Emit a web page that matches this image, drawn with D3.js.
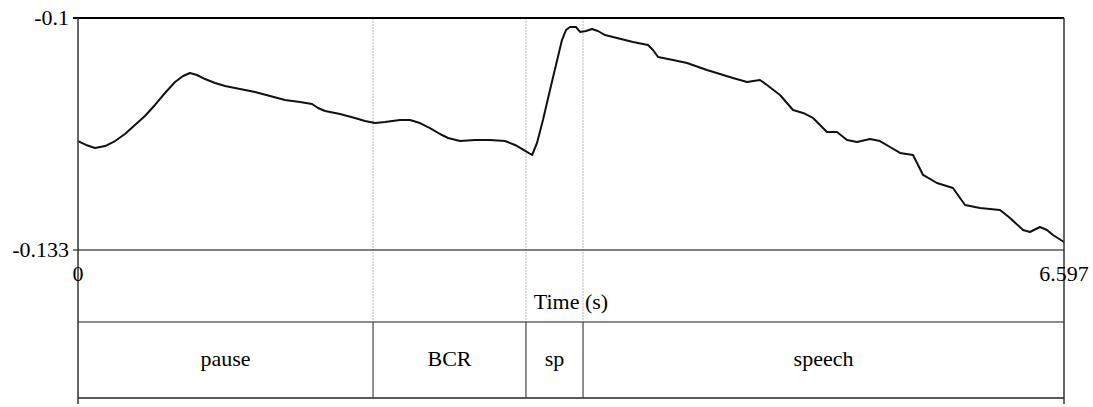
<!DOCTYPE html>
<html>
<head>
<meta charset="utf-8">
<script src="https://cdn.jsdelivr.net/npm/d3@7"></script>
<style>
  html, body { margin: 0; padding: 0; background: #fff; }
  svg { display: block; }
</style>
</head>
<body>
<svg id="chart" width="1093" height="407"></svg>
<script>
// ---- data ----
const times = [0, 0.054, 0.114, 0.181, 0.248, 0.314, 0.381, 0.448, 0.515, 0.582, 0.649, 0.703, 0.749, 0.796, 0.850, 0.917, 0.984, 1.084, 1.184, 1.285, 1.385, 1.485, 1.566, 1.606, 1.653, 1.753, 1.853, 1.920, 1.987, 2.054, 2.154, 2.221, 2.288, 2.355, 2.422, 2.476, 2.556, 2.656, 2.757, 2.857, 2.924, 2.984, 3.038, 3.071, 3.111, 3.158, 3.198, 3.238, 3.265, 3.292, 3.332, 3.359, 3.399, 3.439, 3.479, 3.526, 3.606, 3.713, 3.814, 3.847, 3.881, 3.981, 4.075, 4.208, 4.295, 4.382, 4.476, 4.563, 4.610, 4.697, 4.784, 4.851, 4.918, 5.011, 5.078, 5.145, 5.212, 5.299, 5.366, 5.433, 5.500, 5.587, 5.654, 5.747, 5.854, 5.935, 6.035, 6.169, 6.236, 6.323, 6.369, 6.436, 6.483, 6.523, 6.597];
const values = [-0.11750, -0.11806, -0.11849, -0.11821, -0.11750, -0.11650, -0.11522, -0.11394, -0.11237, -0.11067, -0.10910, -0.10825, -0.10782, -0.10811, -0.10868, -0.10925, -0.10967, -0.11010, -0.11053, -0.11109, -0.11166, -0.11195, -0.11223, -0.11280, -0.11323, -0.11366, -0.11422, -0.11465, -0.11494, -0.11480, -0.11451, -0.11451, -0.11494, -0.11565, -0.11650, -0.11707, -0.11750, -0.11736, -0.11736, -0.11750, -0.11806, -0.11878, -0.11949, -0.11778, -0.11451, -0.11024, -0.10669, -0.10313, -0.10171, -0.10128, -0.10128, -0.10199, -0.10185, -0.10156, -0.10185, -0.10242, -0.10284, -0.10341, -0.10384, -0.10455, -0.10555, -0.10597, -0.10640, -0.10740, -0.10797, -0.10853, -0.10910, -0.10882, -0.10953, -0.11095, -0.11309, -0.11351, -0.11422, -0.11622, -0.11622, -0.11735, -0.11764, -0.11721, -0.11750, -0.11835, -0.11920, -0.11949, -0.12233, -0.12347, -0.12418, -0.12660, -0.12703, -0.12731, -0.12845, -0.13015, -0.13044, -0.12973, -0.13015, -0.13087, -0.13186];
const yTickValues = [-0.1, -0.133];
const yTickLabels = ["-0.1", "-0.133"];
const xTickValues = [0, 6.597];
const xTickLabels = ["0", "6.597"];
const boundaries = [1.974, 2.997, 3.379];
const intervalStarts = [0, 1.974, 2.997, 3.379];
const intervalEnds = [1.974, 2.997, 3.379, 6.597];
const intervalLabels = ["pause", "BCR", "sp", "speech"];
const xAxisTitle = "Time (s)";

// ---- layout ----
const FONT = "'Liberation Serif', 'Times New Roman', Times, 'DejaVu Serif', serif";
const svg = d3.select("#chart");
const L = 78, R = 1064, T = 18, B = 250;
const tierTop = 322, tierBottom = 398, frameBottom = 404;

const x = d3.scaleLinear().domain([0, 6.597]).range([L, R]);
const y = d3.scaleLinear().domain([-0.133, -0.1]).range([B, T]);

// dotted boundary lines in the plot area
svg.append("g").selectAll("line").data(boundaries).join("line")
  .attr("x1", d => x(d)).attr("x2", d => x(d))
  .attr("y1", T).attr("y2", tierTop)
  .attr("stroke", "#b8b8b8").attr("stroke-width", 1)
  .attr("stroke-dasharray", "2,1");

// curve
const line = d3.line().x((d, i) => x(times[i])).y(d => y(d));
svg.append("path").datum(values)
  .attr("d", line)
  .attr("fill", "none").attr("stroke", "#111")
  .attr("stroke-width", 2).attr("stroke-linejoin", "round");

// horizontal frame lines
svg.append("line").attr("x1", 73).attr("x2", R).attr("y1", T).attr("y2", T)
  .attr("stroke", "#000").attr("stroke-width", 2);
svg.append("line").attr("x1", 73).attr("x2", R).attr("y1", B).attr("y2", B)
  .attr("stroke", "#555").attr("stroke-width", 1.3);
svg.append("line").attr("x1", L).attr("x2", R).attr("y1", tierTop).attr("y2", tierTop)
  .attr("stroke", "#666").attr("stroke-width", 1.3);
svg.append("line").attr("x1", L).attr("x2", R).attr("y1", tierBottom).attr("y2", tierBottom)
  .attr("stroke", "#222").attr("stroke-width", 1.5);

// vertical frame lines
[L, R].forEach(px => {
  svg.append("line").attr("x1", px).attr("x2", px).attr("y1", T).attr("y2", frameBottom)
    .attr("stroke", "#333").attr("stroke-width", 1.5);
});

// tier boundary solid lines
svg.append("g").selectAll("line").data(boundaries).join("line")
  .attr("x1", d => x(d)).attr("x2", d => x(d))
  .attr("y1", tierTop).attr("y2", tierBottom)
  .attr("stroke", "#444").attr("stroke-width", 1.2);

function styleText(sel) {
  return sel.attr("font-family", FONT).attr("font-size", 22).attr("fill", "#000");
}

// y tick labels
styleText(svg.append("g").selectAll("text").data(yTickValues).join("text"))
  .attr("x", 69).attr("y", d => y(d) + 7)
  .attr("text-anchor", "end")
  .text((d, i) => yTickLabels[i]);

// x tick labels
styleText(svg.append("g").selectAll("text").data(xTickValues).join("text"))
  .attr("x", d => x(d)).attr("y", 281)
  .attr("text-anchor", "middle")
  .text((d, i) => xTickLabels[i]);

// axis title
styleText(svg.append("text"))
  .attr("x", (L + R) / 2).attr("y", 309)
  .attr("text-anchor", "middle").text(xAxisTitle);

// tier labels
styleText(svg.append("g").selectAll("text").data(intervalLabels).join("text"))
  .attr("x", (d, i) => (x(intervalStarts[i]) + x(intervalEnds[i])) / 2)
  .attr("y", 366)
  .attr("text-anchor", "middle")
  .text(d => d);
</script>
</body>
</html>
